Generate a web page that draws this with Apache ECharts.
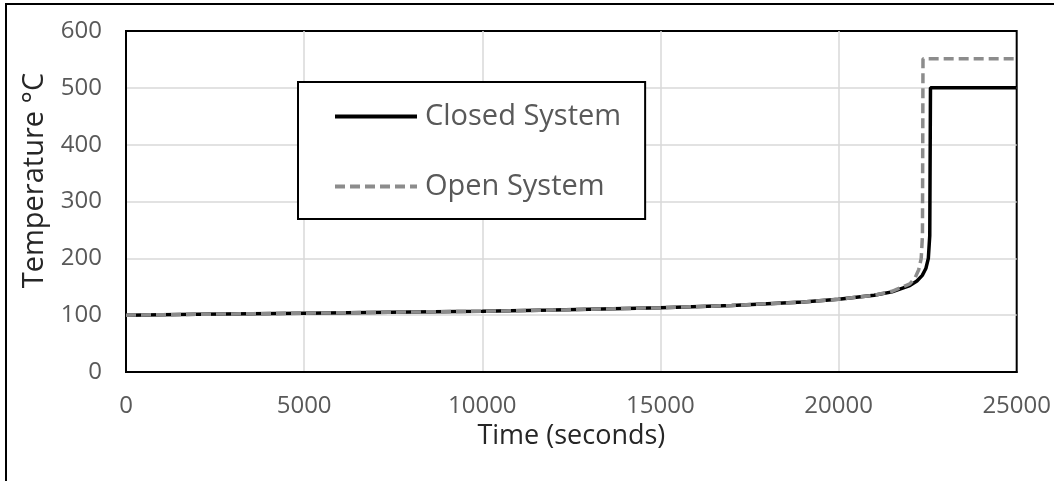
<!DOCTYPE html>
<html>
<head>
<meta charset="utf-8">
<script src="https://cdn.jsdelivr.net/npm/echarts@6/dist/echarts.min.js"></script>
<style>
html,body{margin:0;padding:0;background:#fff;}
#chart{width:1054px;height:481px;}
</style>
</head>
<body>
<div id="chart"></div>
<script>
var xTicks = [0, 5000, 10000, 15000, 20000, 25000];
var yTicks = [0, 100, 200, 300, 400, 500, 600];

var closedTime = [0, 2000, 5000, 8000, 10000, 12000, 15000, 17000, 19000, 20000, 21000, 21500, 22000, 22200, 22350, 22450, 22520, 22560, 22580, 25000];
var closedTemp = [100, 101.5, 103.5, 105.5, 107, 109, 113, 117, 123, 128, 135, 141, 152, 160, 170, 182, 200, 240, 500, 500];

var openTime = [0, 2000, 5000, 8000, 10000, 12000, 15000, 17000, 19000, 20000, 21000, 21500, 22000, 22150, 22250, 22320, 22355, 22370, 25000];
var openTemp = [100, 101.5, 103.5, 105.5, 107, 109, 113, 117, 123, 128, 135, 142, 155, 166, 180, 200, 240, 551, 551];

function pairs(xs, ys) { return xs.map(function (x, i) { return [x, ys[i]]; }); }

var chart = echarts.init(document.getElementById('chart'), null, {renderer: 'canvas'});
var font = 'Open Sans';
chart.setOption({
  backgroundColor: '#ffffff',
  animation: false,
  textStyle: {fontFamily: font},
  grid: {left: 126, right: 36, top: 31, bottom: 109, show: true, borderColor: '#000000', borderWidth: 2, backgroundColor: 'transparent', containLabel: false},
  xAxis: {
    type: 'value', min: xTicks[0], max: xTicks[xTicks.length - 1], interval: 5000,
    name: 'Time (seconds)', nameLocation: 'middle', nameGap: 44,
    nameTextStyle: {color: '#262626', fontSize: 27, fontFamily: font},
    axisLine: {show: true, lineStyle: {color: '#000', width: 2}},
    axisTick: {show: false},
    axisLabel: {color: '#595959', fontSize: 24, margin: 22, fontFamily: font, formatter: function (v) { return String(v); }},
    splitLine: {show: true, showMinLine: false, showMaxLine: false, lineStyle: {color: '#d9d9d9', width: 1.5}}
  },
  yAxis: {
    type: 'value', min: yTicks[0], max: yTicks[yTicks.length - 1], interval: 100,
    name: 'Temperature °C', nameLocation: 'middle', nameGap: 77,
    nameTextStyle: {color: '#262626', fontSize: 29, fontFamily: font, padding: [0, 0, 0, 42]},
    axisLine: {show: true, lineStyle: {color: '#000', width: 2}},
    axisTick: {show: false},
    axisLabel: {color: '#595959', fontSize: 24, margin: 24, fontFamily: font, formatter: function (v) { return String(v); }},
    splitLine: {show: true, showMinLine: false, showMaxLine: false, lineStyle: {color: '#d9d9d9', width: 1.5}}
  },
  legend: {
    orient: 'vertical', left: 298, top: 82,
    padding: [20, 24, 18, 35],
    itemWidth: 82, itemHeight: 30, itemGap: 41,
    backgroundColor: '#ffffff', borderColor: '#000000', borderWidth: 2,
    itemStyle: {opacity: 0},
    lineStyle: {width: 4},
    textStyle: {color: '#595959', fontSize: 29, fontFamily: font, width: 197, padding: [0, 0, 0, 3]},
    data: ['Closed System', 'Open System']
  },
  series: [
    {
      name: 'Closed System', type: 'line', data: pairs(closedTime, closedTemp),
      showSymbol: false, symbol: 'none', smooth: false, z: 3,
      lineStyle: {color: '#000000', width: 3.5}, itemStyle: {color: '#000000'}
    },
    {
      name: 'Open System', type: 'line', data: pairs(openTime, openTemp),
      showSymbol: false, symbol: 'none', smooth: false, z: 4,
      lineStyle: {color: '#8c8c8c', width: 3.5, type: [10, 5]}, itemStyle: {color: '#8c8c8c'}
    }
  ],
  graphic: [
    {type: 'line', shape: {x1: 6, y1: 4, x2: 1054, y2: 4}, style: {stroke: '#000', lineWidth: 2}, silent: true},
    {type: 'line', shape: {x1: 6, y1: 3, x2: 6, y2: 481}, style: {stroke: '#000', lineWidth: 2}, silent: true}
  ]
});
</script>
</body>
</html>
